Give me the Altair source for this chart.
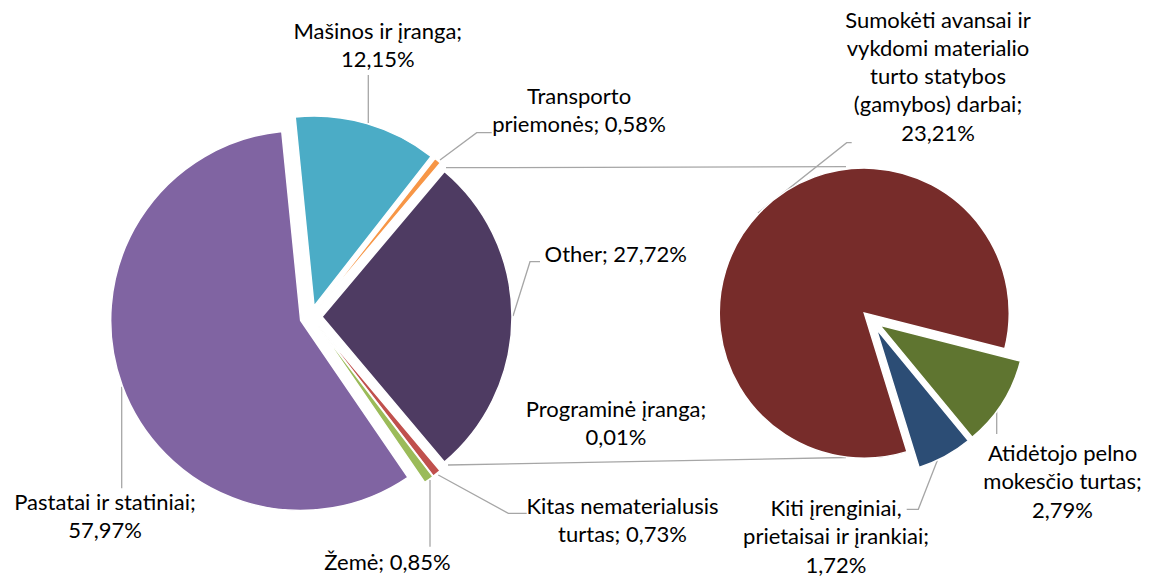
import math
import altair as alt
import pandas as pd

# ---------------- data ----------------
left_labels = ["Programinė įranga", "Kitas nematerialusis turtas", "Žemė",
               "Pastatai ir statiniai", "Mašinos ir įranga", "Transporto priemonės", "Other"]
left_values = [0.01, 0.73, 0.85, 57.97, 12.15, 0.58, 27.72]
left_colors = ["#4F81BD", "#C0504D", "#9BBB59", "#8064A2", "#4BACC6", "#F79646", "#4E3B62"]
left_wrap = ["Programinė įranga;\n{v}", "Kitas nematerialusis\nturtas; {v}", "Žemė; {v}",
             "Pastatai ir statiniai;\n{v}", "Mašinos ir įranga;\n{v}", "Transporto\npriemonės; {v}",
             "Other; {v}"]

right_labels = ["Kiti įrenginiai, prietaisai ir įrankiai",
                "Sumokėti avansai ir vykdomi materialio turto statybos (gamybos) darbai",
                "Atidėtojo pelno mokesčio turtas"]
right_values = [1.72, 23.21, 2.79]
right_colors = ["#2C4D75", "#772C2A", "#5F7530"]
right_wrap = ["Kiti įrenginiai,\nprietaisai ir įrankiai;\n{v}",
              "Sumokėti avansai ir\nvykdomi materialio\nturto statybos\n(gamybos) darbai;\n{v}",
              "Atidėtojo pelno\nmokesčio turtas;\n{v}"]

# ---------------- layout (image pixel space) ----------------
PAD_T, PAD_B = 6, 8
W, H = 1136, 565 - PAD_T
X_DOM = [8, 8 + W]
Y_DOM = [8 + PAD_T, 8 + PAD_T + H]
LEFT = dict(cx=311.0, cy=316.7, r=190, explode=11.0, start=139.9)
RIGHT = dict(cx=871.5, cy=320.0, r=145, explode=10.0, start=140.5)

# position of the first text line of every label
left_label_pos = [(616, 409.5), (622.5, 506.7), (387.5, 562.5), (105, 502.5),
                  (377.8, 32.2), (579, 97), (615.8, 254.5)]
right_label_pos = [(836, 509), (938, 20.5), (1062.5, 454)]

# connector + leader polylines
polylines = [
    [(446, 167.7), (846, 166.7)],
    [(448, 465), (846, 457.5)],
    [(368.3, 75), (368.3, 123)],
    [(491.7, 132.7), (476.7, 132.7), (440, 160)],
    [(540, 261.7), (530, 261.7), (513, 316)],
    [(526.7, 513.3), (508.3, 513.3), (438.3, 475)],
    [(430, 480), (430, 546.7)],
    [(121.7, 386.7), (121.7, 488.3)],
    [(851.7, 142.7), (846.7, 142.7), (758, 213)],
    [(996.7, 396.7), (996.7, 434)],
    [(906.7, 509.3), (918.3, 509.3), (941.7, 449.3)],
]


def fmt(v):
    return f"{v:.2f}%".replace(".", ",")


rows = []
for i, (lab, val, col) in enumerate(zip(left_labels, left_values, left_colors)):
    rows.append(dict(pie="L", order=i, label=lab, value=val, color=col, cx=LEFT["cx"], cy=LEFT["cy"],
                     explode=LEFT["explode"], start=LEFT["start"]))
for i, (lab, val, col) in enumerate(zip(right_labels, right_values, right_colors)):
    rows.append(dict(pie="R", order=i, label=lab, value=val, color=col, cx=RIGHT["cx"], cy=RIGHT["cy"],
                     explode=RIGHT["explode"], start=RIGHT["start"]))
slices = pd.DataFrame(rows)

text_rows = []
for lab, val, wrap, (tx, ty) in zip(left_labels + right_labels, left_values + right_values,
                                    left_wrap + right_wrap, left_label_pos + right_label_pos):
    text_rows.append(dict(label=lab, text=wrap.format(v=fmt(val)), tx=tx, ty=ty))
texts = pd.DataFrame(text_rows)

line_rows = []
for k, pl in enumerate(polylines):
    for j, (px, py) in enumerate(pl):
        line_rows.append(dict(lid=k, idx=j, lx=px, ly=py))
lines = pd.DataFrame(line_rows)

xs = alt.Scale(domain=X_DOM, nice=False, zero=False)
ys = alt.Scale(domain=Y_DOM, nice=False, zero=False, reverse=True)
ts = alt.Scale(domain=[0, 360], range=[0, 2 * math.pi], zero=False, nice=False)

base = alt.Chart(slices).transform_window(
    cum="sum(value)", groupby=["pie"], sort=[alt.SortField("order")], frame=[None, 0]
).transform_joinaggregate(
    total="sum(value)", groupby=["pie"]
).transform_calculate(
    a0="datum.start + 360 * (datum.cum - datum.value) / datum.total",
    a1="datum.start + 360 * datum.cum / datum.total",
).transform_calculate(
    am="(datum.a0 + datum.a1) / 2"
).transform_calculate(
    px="datum.cx + datum.explode * sin(datum.am * PI / 180)",
    py="datum.cy - datum.explode * cos(datum.am * PI / 180)",
)

enc = dict(
    x=alt.X("px:Q", scale=xs, axis=None),
    y=alt.Y("py:Q", scale=ys, axis=None),
    theta=alt.Theta("a0:Q", scale=ts, stack=None),
    theta2=alt.Theta2("a1:Q"),
    color=alt.Color("color:N", scale=None),
)

left_pie = base.transform_filter("datum.pie == 'L'").mark_arc(
    radius=LEFT["r"], stroke="white", strokeWidth=1.5).encode(**enc)
right_pie = base.transform_filter("datum.pie == 'R'").mark_arc(
    radius=RIGHT["r"], stroke="white", strokeWidth=1.5).encode(**enc)

line_layer = alt.Chart(lines).mark_line(color="#A6A6A6", strokeWidth=1.3).encode(
    x=alt.X("lx:Q", scale=xs, axis=None),
    y=alt.Y("ly:Q", scale=ys, axis=None),
    detail="lid:N",
    order="idx:Q",
)

text_layer = alt.Chart(texts).mark_text(
    font="Lato", fontSize=22, lineBreak="\n", lineHeight=28.3,
    align="center", baseline="middle", color="#000000",
).encode(
    x=alt.X("tx:Q", scale=xs, axis=None),
    y=alt.Y("ty:Q", scale=ys, axis=None),
    text="text:N",
)

chart = alt.layer(line_layer, left_pie, right_pie, text_layer).properties(
    width=W, height=H,
    autosize=alt.AutoSizeParams(type="none"),
    padding={"left": 0, "right": 0, "top": PAD_T, "bottom": PAD_B},
).configure_view(stroke=None)

chart.save("out.html", embed_options={"renderer": "svg", "actions": False})
